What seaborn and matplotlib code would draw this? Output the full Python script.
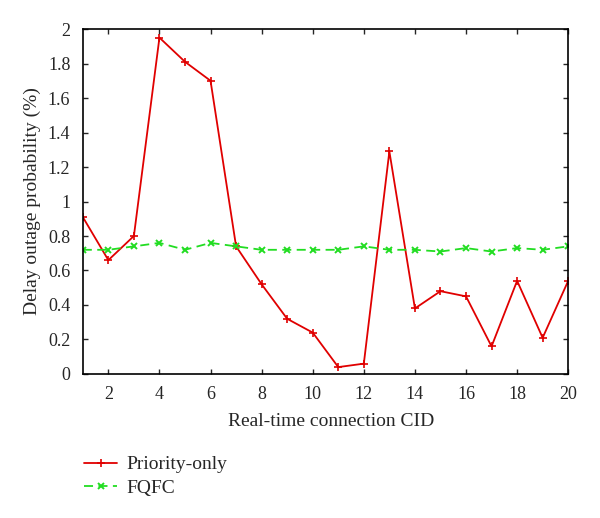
import pandas as pd
import matplotlib.pyplot as plt
import seaborn as sns

# connection IDs and outage probabilities
cid = list(range(1, 21))
priority_only = [0.91, 0.66, 0.80, 1.95, 1.81, 1.70, 0.74, 0.52, 0.32, 0.24,
                 0.04, 0.06, 1.29, 0.38, 0.48, 0.45, 0.16, 0.54, 0.21, 0.54]
fqfc = [0.72, 0.72, 0.74, 0.76, 0.72, 0.76, 0.74, 0.72, 0.72, 0.72,
        0.72, 0.74, 0.72, 0.72, 0.71, 0.73, 0.71, 0.73, 0.72, 0.74]
y_ticks = [0, 0.2, 0.4, 0.6, 0.8, 1, 1.2, 1.4, 1.6, 1.8, 2]
x_ticks = [2, 4, 6, 8, 10, 12, 14, 16, 18, 20]

df = pd.DataFrame({"CID": cid, "Priority-only": priority_only, "FQFC": fqfc})

sns.set_style("ticks")
plt.rcParams["font.family"] = ["Liberation Serif", "DejaVu Serif"]

fig = plt.figure(figsize=(6, 5.18), dpi=100)
ax = fig.add_axes([0.138, 0.278, 0.809, 0.666])

# one call per series so line style and marker stay exactly as set
sns.lineplot(data=df, x="CID", y="Priority-only", color="#e00000",
             marker="+", markersize=6, mec="#e00000", mew=1.2,
             linestyle="-", linewidth=1.3, label="Priority-only", ax=ax)
sns.lineplot(data=df, x="CID", y="FQFC", color="#22dd22",
             marker="x", markersize=5, mec="#22dd22", mew=1.4,
             linestyle=(0, (5, 3)), linewidth=1.3, label="FQFC", ax=ax)

ax.set_xlim(1, 20)
ax.set_ylim(0, 2)
ax.set_xticks(x_ticks)
ax.set_yticks(y_ticks)
ax.set_yticklabels([f"{v:g}" for v in y_ticks])
ax.tick_params(direction="in", top=True, right=True, length=3.5, labelsize=13,
               width=1, pad=9)
for s in ax.spines.values():
    s.set_linewidth(1.2)
    s.set_color("black")
ax.set_xlabel("Real-time connection CID", fontsize=14)
ax.xaxis.set_label_coords(0.512, -0.112)
ax.set_ylabel("Delay outage probability (%)", fontsize=14, labelpad=5)

handles, labels = ax.get_legend_handles_labels()
ax.legend_.remove()
fig.legend(handles, labels, loc="upper left", bbox_to_anchor=(0.127, 0.135),
           frameon=False, fontsize=14, handlelength=1.7, handletextpad=0.5,
           labelspacing=0.3, borderaxespad=0)

fig.savefig("out.png", dpi=100)
